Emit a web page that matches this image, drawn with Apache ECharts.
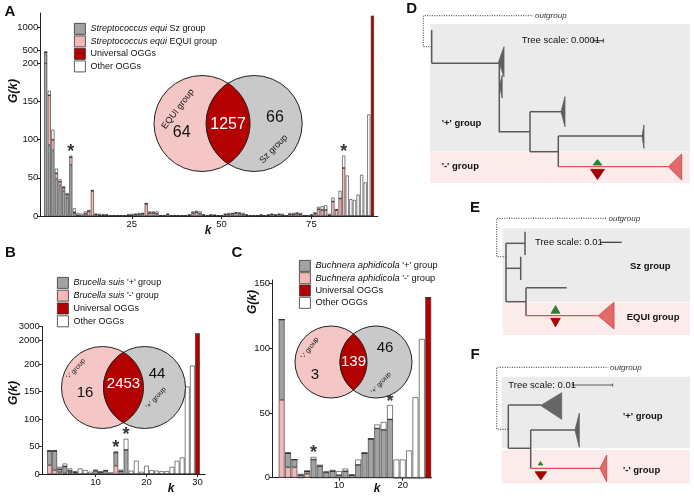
<!DOCTYPE html>
<html><head><meta charset="utf-8">
<script src="https://cdn.jsdelivr.net/npm/echarts@6.0.0/dist/echarts.min.js"></script>
<style>html,body{margin:0;padding:0;background:#fff;}#chart{width:694px;height:501px;}</style>
</head><body><div id="chart"></div>
<script>
// ---------------- DATA ----------------
// Panel A: Streptococcus equi, k = 1..92
const aSz = [400,93,86,49,40,33,24,67,4,0, 0,0,0,0,0,0,0,0,0,0, 0,0,0,0,0,0,0,0,0,0, 0,0,0,0,0,0,0,0,0,0,
  0,0,0,0,0,0,0,0,0,0, 0,0,0,0,0,0,0,0,0,0, 0,0,0,0,0,0,0,0,0,0, 0,0,0,0,0,0,0,0,0,0, 0,0,0,0,0,0,0,0,0,0, 0,0];
const aEqui = [50,65,14,7,5,4,4,10,1,1, 0,3,6,33,2,1,1,1,0,0, 0,0,0,1,1,2,2,3,16,4, 4,3,0,0,2,0,0,0,0,0,
  1,4,5,3,1,0,1,1,0,0, 2,2,3,4,3,2,1,0,0,0, 1,0,1,2,1,2,1,0,2,2, 3,2,0,0,1,3,9,8,8,1, 19,8,23,63,0,0,0,0,0,0, 0,0];
const aOther = [0,6,13,6,3,2,2,2,5,3, 3,3,2,1,1,2,1,1,1,0, 0,1,1,1,2,1,2,1,1,2, 2,3,1,0,1,1,0,0,1,1,
  1,2,2,3,1,1,1,0,1,1, 1,2,1,1,2,2,1,1,0,0, 1,1,1,1,1,1,2,1,2,2, 2,2,1,1,1,2,3,5,6,2, 5,1,10,16,53,22,21,28,54,44, 133,0];
const aUniversal = [0,0,0,0,0,0,0,0,0,0, 0,0,0,0,0,0,0,0,0,0, 0,0,0,0,0,0,0,0,0,0, 0,0,0,0,0,0,0,0,0,0,
  0,0,0,0,0,0,0,0,0,0, 0,0,0,0,0,0,0,0,0,0, 0,0,0,0,0,0,0,0,0,0, 0,0,0,0,0,0,0,0,0,0, 0,0,0,0,0,0,0,0,0,0, 0,1257];
const starsA = [8, 84];
const vennA = [64, 1257, 66];
const ticksAx = [25, 50, 75];
const ticksAyLow = [0, 50, 100, 150];
const ticksAyHigh = [200, 500, 1000];

// Panel B: Brucella suis, k = 1..30
const bPlus  = [26,35,6,13,4,3,0,0,0,6, 3,6,0,24,5,44,0,0,0,0, 0,0,0,0,0,0,0,0,0,0];
const bMinus = [16,7,3,1,2,0,0,0,0,0, 0,0,0,15,0,0,0,0,0,0, 0,0,0,0,0,0,0,0,0,0];
const bOther = [0,0,4,5,4,2,10,7,4,2, 2,1,3,2,3,20,6,24,4,15, 7,6,5,5,13,24,30,159,197,0];
const bUniversal = [0,0,0,0,0,0,0,0,0,0, 0,0,0,0,0,0,0,0,0,0, 0,0,0,0,0,0,0,0,0,2453];
const starsB = [14, 16];
const vennB = [16, 2453, 44];
const ticksBx = [10, 20, 30];
const ticksByLow = [0, 50, 100, 150];
const ticksByHigh = [200, 2000, 3000];

// Panel C: Buchnera aphidicola, k = 1..24
const cPlus  = [62,11,6,2,2,14,9,4,5,2, 5,2,10,19,30,38,37,45,0,0, 0,0,0,0];
const cMinus = [60,8,8,0,3,0,0,0,0,0, 0,0,0,0,0,0,0,0,0,0, 0,0,0,0];
const cOther = [0,0,0,1,0,2,1,1,1,3, 2,0,4,0,0,3,6,11,14,14, 21,62,107,0];
const cUniversal = [0,0,0,0,0,0,0,0,0,0, 0,0,0,0,0,0,0,0,0,0, 0,0,0,139];
const starsC = [6, 18];
const vennC = [3, 139, 46];
const ticksCx = [10, 20];
const ticksCy = [0, 50, 100, 150];

// ---------------- STYLE ----------------
const FF = '"Liberation Sans", Arial, Helvetica, sans-serif';
const GREY = '#a2a2a2', PINK = '#f5b8b8', RED = '#b30000', WHITE = '#ffffff';
const VPINK = '#f4c6c6', VGREY = '#c9c9c9';

function cats(n){ const c=[]; for(let i=0;i<=n;i++) c.push(String(i)); return c; }
const catsA = cats(93), catsB = cats(31), catsC = cats(24);

const series = [];
function addStack(xi, yi, cs, layers, bw, stackId){
  layers.forEach(Ly => series.push({
    type:'bar', name: Ly.name, xAxisIndex: xi, yAxisIndex: yi, stack: stackId, barWidth: bw,
    clip: true, silent: true, animation:false,
    itemStyle:{color: Ly.color, borderColor:'#2b2b2b', borderWidth:0.6},
    data: cs.map(c => { const k=+c; return (k>=1 && k<=Ly.data.length) ? Ly.data[k-1] : '-'; })
  }));
}
function addStars(xi, yi, stars, layers){
  series.push({
    type:'scatter', xAxisIndex:xi, yAxisIndex:yi, symbolSize:1, silent:true,
    itemStyle:{color:'transparent'},
    label:{show:true, formatter:'*', position:'top', distance:-6, fontSize:18, fontWeight:'bold', color:'#000', fontFamily:FF},
    data: stars.map(k => [String(k), layers.reduce((s,a)=>s+a[k-1],0)])
  });
}

const layersA = [
  {name:'Streptococcus equi Sz group', data:aSz, color:GREY},
  {name:'Streptococcus equi EQUI group', data:aEqui, color:PINK},
  {name:'Universal OGGs', data:aUniversal, color:RED},
  {name:'Other OGGs', data:aOther, color:WHITE}];
const layersB = [
  {name:"Brucella suis '-' group", data:bMinus, color:PINK},
  {name:"Brucella suis '+' group", data:bPlus, color:GREY},
  {name:'Universal OGGs', data:bUniversal, color:RED},
  {name:'Other OGGs', data:bOther, color:WHITE}];
const layersC = [
  {name:"Buchnera aphidicola '-' group", data:cMinus, color:PINK},
  {name:"Buchnera aphidicola '+' group", data:cPlus, color:GREY},
  {name:'Universal OGGs', data:cUniversal, color:RED},
  {name:'Other OGGs', data:cOther, color:WHITE}];

addStack(0,0,catsA,layersA,3.1,'A0');
addStack(1,1,catsA,layersA,3.1,'A1');
addStack(2,2,catsB,layersB,4.7,'B0');
addStack(3,3,catsB,layersB,4.7,'B1');
addStack(4,4,catsC,layersC,5.8,'C0');
addStars(0,0,starsA,[aSz,aEqui,aOther,aUniversal]);
addStars(2,2,starsB,[bPlus,bMinus,bOther,bUniversal]);
addStars(4,4,starsC,[cPlus,cMinus,cOther,cUniversal]);

function xAx(grid, cs, labels, show){
  const f = (i, v) => labels.includes(+v);
  return {type:'category', gridIndex:grid, data:cs, boundaryGap:true, show:show,
    axisLine:{show:true, onZero:false, lineStyle:{color:'#222', width:1}},
    axisTick:{show:true, length:3, alignWithLabel:true, interval:f, lineStyle:{color:'#222'}},
    axisLabel:{show:true, interval:f, fontSize:9.5, color:'#111', margin:3, fontFamily:FF},
    splitLine:{show:false}};
}
function yAx(grid, min, max, labels){
  return {type:'value', gridIndex:grid, min:min, max:max,
    axisLine:{show:true, lineStyle:{color:'#222', width:1}},
    axisTick:{show:true, length:3, customValues:labels, lineStyle:{color:'#222'}},
    axisLabel:{show:true, customValues:labels, fontSize:9.5, color:'#111', margin:2, fontFamily:FF,
      formatter: v => String(v)},
    splitLine:{show:false}};
}

const grids = [
  {left:40.3, top:63.3, width:337.5, height:152.7},
  {left:40.3, top:13, width:337.5, height:50.3},
  {left:41.9, top:364, width:163.2, height:110},
  {left:41.9, top:326.5, width:163.2, height:37.5},
  {left:272.1, top:280, width:159.3, height:197.7}
].map(g => Object.assign({outerBoundsMode:'none', containLabel:false}, g));

const xAxes = [xAx(0,catsA,ticksAx,true), xAx(1,catsA,[],false), xAx(2,catsB,ticksBx,true), xAx(3,catsB,[],false), xAx(4,catsC,ticksCx,true)];
const yAxes = [yAx(0,0,200,ticksAyLow), yAx(1,200,1330,ticksAyHigh), yAx(2,0,200,ticksByLow), yAx(3,200,3000,ticksByHigh), yAx(4,0,152.5,ticksCy)];

// ---------------- LEGENDS ----------------
function fmt(name){
  const m = name.match(/^(Streptococcus equi|Brucella suis|Buchnera aphidicola)(.*)$/);
  return m ? '{i|'+m[1]+'}{n|'+m[2]+'}' : '{n|'+name+'}';
}
function legend(names, left, top, gap, fs){
  return {data:names, left:left, top:top, orient:'vertical', itemWidth:11, itemHeight:11, itemGap:gap,
    padding:0, selectedMode:false, icon:'rect', formatter:fmt,
    itemStyle:{borderColor:'#333', borderWidth:0.8},
    textStyle:{fontSize:fs, color:'#111', fontFamily:FF, lineHeight:11,
      rich:{i:{fontStyle:'italic', fontSize:fs, color:'#111', fontFamily:FF, lineHeight:11},
            n:{fontSize:fs, color:'#111', fontFamily:FF, lineHeight:11}}}};
}
const legends = [
  legend(['Streptococcus equi Sz group','Streptococcus equi EQUI group','Universal OGGs','Other OGGs'], 74, 23, 0.7, 9),
  legend(["Brucella suis '+' group","Brucella suis '-' group",'Universal OGGs','Other OGGs'], 57, 277, 1, 9),
  legend(["Buchnera aphidicola '+' group","Buchnera aphidicola '-' group",'Universal OGGs','Other OGGs'], 299, 260, 0.5, 9.3)
];

// ---------------- GRAPHICS (Venn, labels, trees) ----------------
const G = [];
function T(x, y, text, font, o){ o = o || {};
  G.push({type:'text', z:120, silent:true, x:x, y:y, rotation:o.rot||0,
    style:{text:text, x:0, y:0, font:font, fill:o.fill||'#111',
      align:o.align||'left', verticalAlign:'middle', textAlign:o.align||'left', textVerticalAlign:'middle'}});
}
function L(pts, c, w, dash){
  G.push({type:'polyline', z:110, silent:true, shape:{points:pts},
    style:{stroke:c||'#5a5a5a', lineWidth:w||1.5, fill:null, lineDash:dash||null}});
}
function P(pts, fill, stroke){
  G.push({type:'polygon', z:111, silent:true, shape:{points:pts}, style:{fill:fill, stroke:stroke||fill, lineWidth:0.8}});
}
function R(x, y, w, h, fill){
  G.push({type:'rect', z:100, silent:true, shape:{x:x, y:y, width:w, height:h}, style:{fill:fill}});
}
function venn(c1, c2, cy, r, vals, pos, fs){
  G.push({type:'circle', z:110, silent:true, shape:{cx:c1, cy:cy, r:r}, style:{fill:VPINK, stroke:'#222', lineWidth:1}});
  G.push({type:'circle', z:111, silent:true, shape:{cx:c2, cy:cy, r:r}, style:{fill:VGREY, stroke:'#222', lineWidth:1}});
  const d = c2 - c1, h = Math.sqrt(r*r - d*d/4);
  const a = Math.asin(h / r), pts = [], n = 40;
  for (let i = 0; i <= n; i++){ const t = -a + 2*a*i/n; pts.push([c1 + r*Math.cos(t), cy + r*Math.sin(t)]); }
  for (let i = 0; i <= n; i++){ const t = Math.PI - a + 2*a*i/n; pts.push([c2 + r*Math.cos(t), cy + r*Math.sin(t)]); }
  G.push({type:'polygon', z:112, silent:true, shape:{points:pts}, style:{fill:RED, stroke:'#222', lineWidth:1}});
  T(pos[0][0], pos[0][1], String(vals[0]), fs+'px '+FF, {align:'center'});
  T(pos[1][0], pos[1][1], String(vals[1]), fs+'px '+FF, {align:'center', fill:'#fff'});
  T(pos[2][0], pos[2][1], String(vals[2]), fs+'px '+FF, {align:'center'});
}
venn(202, 254.2, 123.5, 48, vennA, [[181.7,133],[228.1,125],[275,118]], 16);
T(178, 109, 'EQUI group', '9px '+FF, {align:'center', rot:0.92});
T(273.7, 149, 'Sz group', '9px '+FF, {align:'center', rot:0.8});
venn(102.5, 144.5, 387.5, 41, vennB, [[85,393],[123.5,384],[157,374]], 15);
T(76, 369, "'-' group", '7px '+FF, {align:'center', rot:0.85});
T(156, 398, "'+' group", '7px '+FF, {align:'center', rot:0.85});
venn(331, 376, 362, 36, vennC, [[315,375],[353.5,362],[385,348]], 15);
T(310, 348, "'-' group", '7px '+FF, {align:'center', rot:0.95});
T(381, 383, "'+' group", '7px '+FF, {align:'center', rot:0.85});

// panel letters and axis names
const LF = 'bold 15px '+FF;
T(10, 11.5, 'A', LF, {align:'center'});
T(10.5, 253, 'B', LF, {align:'center'});
T(237, 253, 'C', LF, {align:'center'});
T(411.7, 8.5, 'D', LF, {align:'center'});
T(475, 208, 'E', LF, {align:'center'});
T(475, 355, 'F', LF, {align:'center'});
const AF = 'italic bold 12px '+FF;
T(13.5, 91, 'G(k)', AF, {align:'center', rot:Math.PI/2});
T(14, 393, 'G(k)', AF, {align:'center', rot:Math.PI/2});
T(253, 302, 'G(k)', AF, {align:'center', rot:Math.PI/2});
T(208, 231, 'k', AF, {align:'center'});
T(171, 489, 'k', AF, {align:'center'});
T(377, 489, 'k', AF, {align:'center'});

// ---- tree D ----
const TL = '#5a5a5a', RL = '#d9534f', DOT = [1, 1.4];
const GF = 'bold 9.5px '+FF, SF = '9.5px '+FF, OF = 'italic 8px '+FF;
R(430, 24, 260, 127.5, '#ebebeb'); R(430, 152, 260, 31, '#fcebeb');
L([[431.7,46.7],[423.3,46.7],[423.3,15.7],[533,15.7]], '#333', 1, DOT);
T(535, 15.7, 'outgroup', OF, {fill:'#333'});
L([[431.7,30],[431.7,63.3]], TL);
L([[431.7,63.3],[499.3,63.3]], TL);
P([[498.5,62],[504,46.7],[504,76.7]], '#5f5f5f');
P([[499.6,86],[502.2,75],[502.2,98]], '#5f5f5f');
L([[499.3,63.3],[499.3,131.7],[530,131.7]], TL);
L([[530,111.7],[530,151.7]], TL);
L([[530,111.7],[561.7,111.7]], TL);
P([[561,111.7],[565,96.7],[565,126.7]], '#5f5f5f');
L([[530,151.7],[558.3,151.7]], TL);
L([[558.3,136],[558.3,166.7]], TL);
L([[558.3,136],[643,136]], TL);
P([[642,136],[644,125],[644,148.3]], '#5f5f5f');
L([[558.3,166.7],[668.3,166.7]], RL, 1.3);
P([[668.3,166.7],[681.7,154],[681.7,180]], '#e46a6a', '#c94040');
P([[597.5,159.5],[593,165],[602,165]], '#2e7d32');
P([[590.5,169.3],[604.5,169.3],[597.5,179.5]], '#a50000');
T(441.7, 123.3, "'+' group", GF);
T(441.7, 166.7, "'-' group", GF);
T(521.7, 40.7, 'Tree scale: 0.0001', SF);
L([[593.3,40.7],[603.3,40.7]], '#333', 1);
L([[593.3,38.7],[593.3,42.7]], '#333', 1); L([[603.3,38.7],[603.3,42.7]], '#333', 1);

// ---- tree E ----
R(502.7, 228.3, 187.3, 73.4, '#ebebeb'); R(502.7, 302.5, 187.3, 32.5, '#fcebeb');
L([[506,256.7],[496.7,256.7],[496.7,218.3],[606.7,218.3]], '#333', 1, DOT);
T(608.5, 218.3, 'outgroup', OF, {fill:'#333'});
L([[506,243.3],[506,301.7]], TL);
L([[506,243.3],[525,243.3]], TL); L([[525,231.7],[525,255]], TL);
L([[506,268.3],[520.7,268.3]], TL); L([[520.7,256.7],[520.7,280]], TL);
L([[506,301.7],[526,301.7]], TL);
L([[526,287.7],[526,315.7]], TL);
L([[526,287.7],[566.7,287.7]], TL);
L([[526,315.7],[598.3,315.7]], RL, 1.3);
P([[598.3,315.7],[614,302.3],[614,329]], '#e46a6a', '#c94040');
P([[555.5,305.5],[551,313.3],[560,313.3]], '#2e7d32');
P([[550.7,318.3],[560.3,318.3],[555.5,326.7]], '#a50000');
T(535, 242.3, 'Tree scale: 0.01', SF);
L([[600,242.3],[621.7,242.3]], '#333', 1.2);
T(630, 266, 'Sz group', GF);
T(626.7, 317.7, 'EQUI group', GF);

// ---- tree F ----
R(501.7, 376.7, 188.3, 71.6, '#ebebeb'); R(501.7, 450, 188.3, 33.3, '#fcebeb');
L([[508.3,429.3],[496.7,429.3],[496.7,367.3],[608.3,367.3]], '#333', 1, DOT);
T(610, 367.3, 'outgroup', OF, {fill:'#333'});
L([[508.3,405],[508.3,448.3]], TL);
L([[508.3,405],[541,405]], TL);
P([[540.7,405.5],[561.7,392.7],[561.7,419.3]], '#666666');
L([[508.3,448.3],[530.7,448.3]], TL);
L([[530.7,430],[530.7,468.3]], TL);
L([[530.7,430],[576,430]], TL);
P([[575,430],[579.3,413.3],[579.3,447.3]], '#5f5f5f');
L([[530.7,468.3],[600,468.3]], RL, 1.3);
P([[600,468.3],[606.7,455],[606.7,481.7]], '#e46a6a', '#c94040');
P([[540.5,461.5],[538.2,465],[542.8,465]], '#2e7d32');
P([[535,471.7],[546.7,471.7],[540.8,480]], '#a50000');
T(508.3, 385, 'Tree scale: 0.01', SF);
L([[572.7,385],[612.7,385]], '#333', 0.8);
L([[572.7,383.5],[572.7,386.5]], '#333', 0.8); L([[612.7,383.5],[612.7,386.5]], '#333', 0.8);
T(623, 416, "'+' group", GF);
T(623, 470, "'-' group", GF);

// ---------------- CHART ----------------
const chart = echarts.init(document.getElementById('chart'), null, {renderer:'canvas'});
chart.setOption({
  animation:false,
  backgroundColor:'#ffffff',
  textStyle:{fontFamily:FF},
  grid:grids, xAxis:xAxes, yAxis:yAxes,
  legend:legends,
  series:series,
  graphic:{elements:G}
});
</script></body></html>
